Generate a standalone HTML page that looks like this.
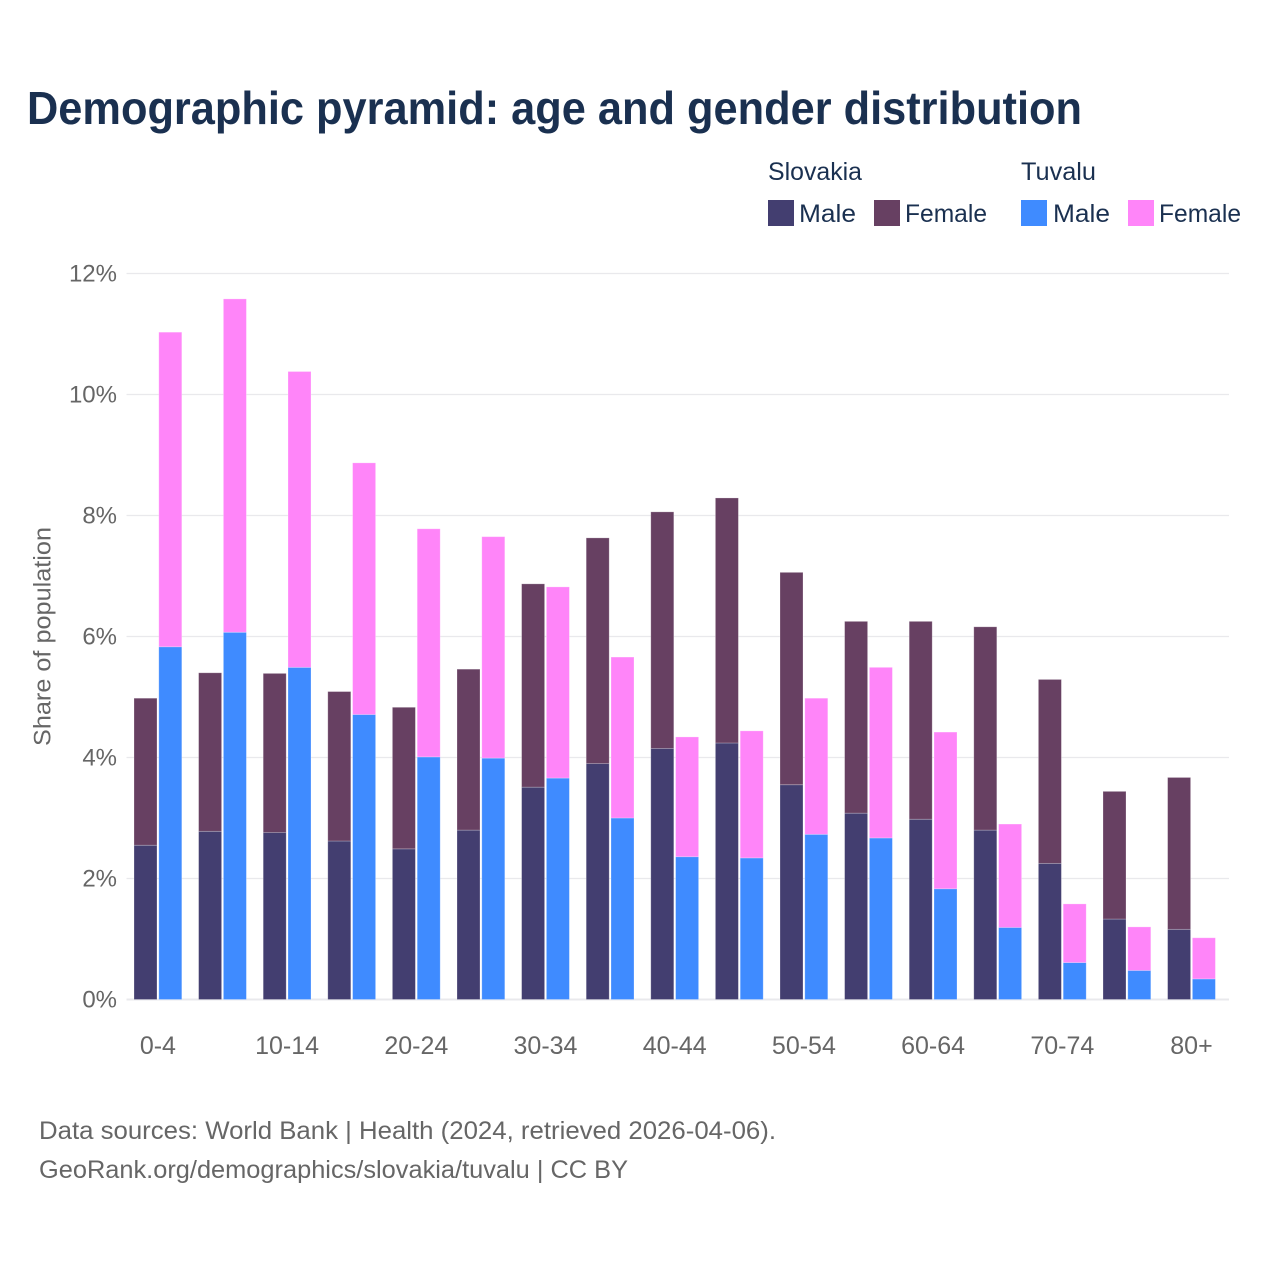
<!DOCTYPE html>
<html lang="en">
<head>
<meta charset="utf-8">
<title>Demographic pyramid: age and gender distribution</title>
<style>
html,body{margin:0;padding:0;background:#fff;}
svg{display:block;font-family:"Liberation Sans",sans-serif;}
</style>
</head>
<body>
<svg id="chart" width="1280" height="1280" viewBox="0 0 1280 1280" xmlns="http://www.w3.org/2000/svg">
  <rect x="0" y="0" width="1280" height="1280" fill="#ffffff"/>
  <text x="27" y="124" font-size="46" font-weight="700" fill="#1a3050" textLength="1055" lengthAdjust="spacingAndGlyphs">Demographic pyramid: age and gender distribution</text>

  <g font-size="25" fill="#1a3050">
    <text x="768" y="180" textLength="94" lengthAdjust="spacingAndGlyphs">Slovakia</text>
    <text x="1021" y="180" textLength="75" lengthAdjust="spacingAndGlyphs">Tuvalu</text>
    <rect x="768" y="200" width="26" height="26" fill="#433e70"/>
    <text x="799" y="222" textLength="57" lengthAdjust="spacingAndGlyphs">Male</text>
    <rect x="874" y="200" width="26" height="26" fill="#674062"/>
    <text x="905" y="222" textLength="82" lengthAdjust="spacingAndGlyphs">Female</text>
    <rect x="1021" y="200" width="26" height="26" fill="#3f8bff"/>
    <text x="1053" y="222" textLength="57" lengthAdjust="spacingAndGlyphs">Male</text>
    <rect x="1128" y="200" width="26" height="26" fill="#ff85f9"/>
    <text x="1159" y="222" textLength="82" lengthAdjust="spacingAndGlyphs">Female</text>
  </g>

  <g id="grid"></g>
  <g id="bars"></g>
  <g id="y-ticks"></g>
  <g id="x-ticks"></g>

  <text transform="translate(50.5,636.5) rotate(-90)" text-anchor="middle" font-size="24" fill="#666666" textLength="219" lengthAdjust="spacingAndGlyphs">Share of population</text>

  <text x="39" y="1139" font-size="25" fill="#666666" textLength="737" lengthAdjust="spacingAndGlyphs">Data sources: World Bank | Health (2024, retrieved 2026-04-06).</text>
  <text x="39" y="1178" font-size="25" fill="#666666" textLength="589" lengthAdjust="spacingAndGlyphs">GeoRank.org/demographics/slovakia/tuvalu | CC BY</text>
</svg>
<script>
const categories = ["0-4","5-9","10-14","15-19","20-24","25-29","30-34","35-39","40-44","45-49","50-54","55-59","60-64","65-69","70-74","75-79","80+"];
const xTickLabels = ["0-4","10-14","20-24","30-34","40-44","50-54","60-64","70-74","80+"];
const yTickValues = [0,2,4,6,8,10,12];
const slovakiaMale = [2.55,2.78,2.76,2.62,2.49,2.80,3.51,3.90,4.15,4.24,3.55,3.08,2.98,2.80,2.25,1.33,1.16];
const slovakiaFemale = [2.43,2.62,2.63,2.47,2.34,2.66,3.36,3.73,3.91,4.05,3.51,3.17,3.27,3.36,3.04,2.11,2.51];
const tuvaluMale = [5.83,6.07,5.49,4.71,4.01,3.99,3.66,3.00,2.36,2.34,2.73,2.67,1.83,1.19,0.61,0.48,0.34];
const tuvaluFemale = [5.20,5.51,4.89,4.16,3.77,3.66,3.16,2.66,1.98,2.10,2.25,2.82,2.59,1.71,0.97,0.72,0.68];

const NS = "http://www.w3.org/2000/svg";
const plotLeft = 126.5, plotRight = 1229, plotBottom = 999.5, pxPerUnit = 60.5;
const step = 64.6, barW = 23, barGap = 1.8, firstBar = 134;
const yScale = function (v) { return plotBottom - v * pxPerUnit; };
const groupX = function (i) { return firstBar + i * step; };

function make(tag, attrs, parent) {
  const el = document.createElementNS(NS, tag);
  Object.keys(attrs).forEach(function (k) { el.setAttribute(k, attrs[k]); });
  parent.appendChild(el);
  return el;
}

const grid = document.getElementById("grid");
const yTicks = document.getElementById("y-ticks");
yTickValues.forEach(function (v) {
  const y = yScale(v);
  const line = make("line", {x1: plotLeft, x2: plotRight, y1: y, y2: y, stroke: "#e9e9ec", "stroke-width": v === 0 ? 2 : 1.2}, grid);
  
  
  const t = make("text", {x: 117, y: y + 8, "text-anchor": "end", "font-size": 24, fill: "#666666"}, yTicks);
  t.textContent = v + "%";
  
  
});

const bars = document.getElementById("bars");
function drawBar(x, base, value, color) {
  const top = base + value;
  const r = make("rect", {x: x, y: yScale(top), width: barW, height: yScale(base) - yScale(top), fill: color, stroke: "#ffffff", "stroke-opacity": 0.3, "stroke-width": 0.8}, bars);
  
  
}
categories.forEach(function (c, i) {
  const x1 = groupX(i);
  const x2 = x1 + barW + barGap;
  drawBar(x1, 0, slovakiaMale[i], "#433e70");
  drawBar(x1, slovakiaMale[i], slovakiaFemale[i], "#674062");
  drawBar(x2, 0, tuvaluMale[i], "#3f8bff");
  drawBar(x2, tuvaluMale[i], tuvaluFemale[i], "#ff85f9");
});

const xTicks = document.getElementById("x-ticks");
xTickLabels.forEach(function (label) {
  const i = categories.indexOf(label);
  const t = make("text", {x: groupX(i) + barW + barGap / 2, y: 1054, "text-anchor": "middle", "font-size": 25, fill: "#666666"}, xTicks);
  t.textContent = label;
  
  
});
</script>
</body>
</html>
